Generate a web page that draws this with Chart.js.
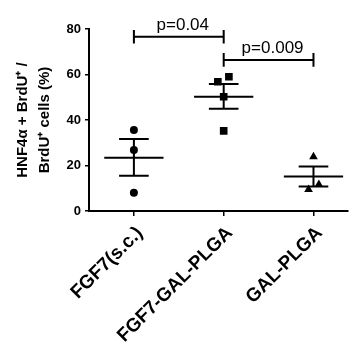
<!DOCTYPE html>
<html>
<head>
<meta charset="utf-8">
<script src="https://cdn.jsdelivr.net/npm/chart.js@4"></script>
<style>
  body { margin: 0; background: #fff; }
  #wrap { width: 353px; height: 348px; }
</style>
</head>
<body>
<div id="wrap"><canvas id="graph"></canvas></div>
<script>
const categories = ['FGF7(s.c.)', 'FGF7-GAL-PLGA', 'GAL-PLGA'];
const yTicks = [0, 20, 40, 60, 80];

// individual animals (x = group index, small jitter as in the picture)
const circleX = [0, 0, 0];
const circleY = [35.6, 26.8, 8.0];
const squareX = [0.935, 1.058, 1, 1];
const squareY = [56.8, 59.0, 50.2, 35.2];
const triangleX = [2, 1.945, 2.06];
const triangleY = [23.9, 9.5, 11.7];

// mean +/- SEM per group
const means = [23.4, 50.2, 15.2];
const semLow = [15.5, 45.0, 10.8];
const semHigh = [31.6, 55.8, 19.6];

// significance brackets
const pLabels = ['p=0.04', 'p=0.009'];
const pFrom = [0, 1];
const pTo = [1, 2];
const pLevel = [76.6, 66.4];

const font = 'Liberation Sans, Arial, sans-serif';

function toPoints(xs, ys) {
    var pts = [];
    for (let i = 0; i < xs.length; i++) {
        pts.push({x: xs[i], y: ys[i]});
    }
    return pts;
}

const statsPlugin = {
    id: 'stats',
    afterDatasetsDraw(chart) {
        const ctx = chart.ctx;
        const xs = chart.scales.x;
        const ys = chart.scales.y;
        ctx.save();
        ctx.strokeStyle = '#000';
        ctx.lineWidth = 2;
        ctx.lineCap = 'butt';

        // mean lines and SEM bars
        for (let i = 0; i < means.length; i++) {
            const cx = xs.getPixelForValue(i);
            const half = xs.getPixelForValue(i + 0.33) - cx;
            const cap = xs.getPixelForValue(i + 0.165) - cx;
            const ym = ys.getPixelForValue(means[i]);
            const yl = ys.getPixelForValue(semLow[i]);
            const yh = ys.getPixelForValue(semHigh[i]);
            ctx.beginPath();
            ctx.moveTo(cx - half, ym); ctx.lineTo(cx + half, ym);
            ctx.moveTo(cx - cap, yl); ctx.lineTo(cx + cap, yl);
            ctx.moveTo(cx - cap, yh); ctx.lineTo(cx + cap, yh);
            ctx.moveTo(cx, yl); ctx.lineTo(cx, yh);
            ctx.stroke();
        }

        // brackets
        ctx.font = '17px ' + font;
        ctx.fillStyle = '#000';
        ctx.textAlign = 'center';
        ctx.textBaseline = 'bottom';
        for (let i = 0; i < pLabels.length; i++) {
            const x1 = xs.getPixelForValue(pFrom[i]);
            const x2 = xs.getPixelForValue(pTo[i]);
            const y = ys.getPixelForValue(pLevel[i]);
            const t1 = ys.getPixelForValue(pLevel[i] + 3);
            const t2 = ys.getPixelForValue(pLevel[i] - 3);
            ctx.beginPath();
            ctx.moveTo(x1, y); ctx.lineTo(x2, y);
            ctx.moveTo(x1, t1); ctx.lineTo(x1, t2);
            ctx.moveTo(x2, t1); ctx.lineTo(x2, t2);
            ctx.stroke();
            ctx.fillText(pLabels[i], (x1 + x2) / 2 + 4, y - 3);
        }
        ctx.restore();
    }
};

const config = {
    type: 'scatter',
    data: {
        datasets: [
            {data: toPoints(circleX, circleY), pointStyle: 'circle', pointRadius: 4},
            {data: toPoints(squareX, squareY), pointStyle: 'rect', pointRadius: 5.4},
            {data: toPoints(triangleX, triangleY), pointStyle: 'triangle', pointRadius: 5}
        ].map(d => Object.assign(d, {
            backgroundColor: '#000',
            borderColor: '#000',
            borderWidth: 0,
            pointHoverRadius: d.pointRadius
        }))
    },
    options: {
        responsive: true,
        maintainAspectRatio: false,
        animation: false,
        events: [],
        layout: {padding: {top: 29, right: 0, left: 0, bottom: 0}},
        plugins: {legend: {display: false}, tooltip: {enabled: false}},
        scales: {
            x: {
                type: 'linear',
                min: -0.5,
                max: 2.38,
                afterBuildTicks: (scale) => {
                    scale.ticks = categories.map((c, i) => ({value: i}));
                },
                afterFit: (scale) => { scale.height = 137; },
                grid: {display: true, drawOnChartArea: false, tickLength: 5, color: '#000', lineWidth: 1.5},
                border: {color: '#000', width: 2},
                ticks: {
                    minRotation: 45,
                    maxRotation: 45,
                    autoSkip: false,
                    padding: 6,
                    labelOffset: 6,
                    color: '#000',
                    font: {family: font, size: 19, weight: 'bold'},
                    callback: (v) => categories[v]
                }
            },
            y: {
                min: 0,
                max: 80,
                afterBuildTicks: (scale) => {
                    scale.ticks = yTicks.map(v => ({value: v}));
                },
                afterFit: (scale) => { scale.width = 89; },
                grid: {display: true, drawOnChartArea: false, tickLength: 4, color: '#000', lineWidth: 1.5},
                border: {color: '#000', width: 2},
                ticks: {
                    padding: 4,
                    color: '#000',
                    font: {family: font, size: 13, weight: 'bold'}
                },
                title: {
                    display: true,
                    text: ['HNF4α + BrdU⁺ /', 'BrdU⁺ cells (%)'],
                    color: '#000',
                    padding: {top: 12, bottom: 0},
                    font: {family: font, size: 15, weight: 'bold', lineHeight: '22px'}
                }
            }
        }
    },
    plugins: [statsPlugin]
};

new Chart(document.getElementById('graph'), config);
</script>
</body>
</html>
